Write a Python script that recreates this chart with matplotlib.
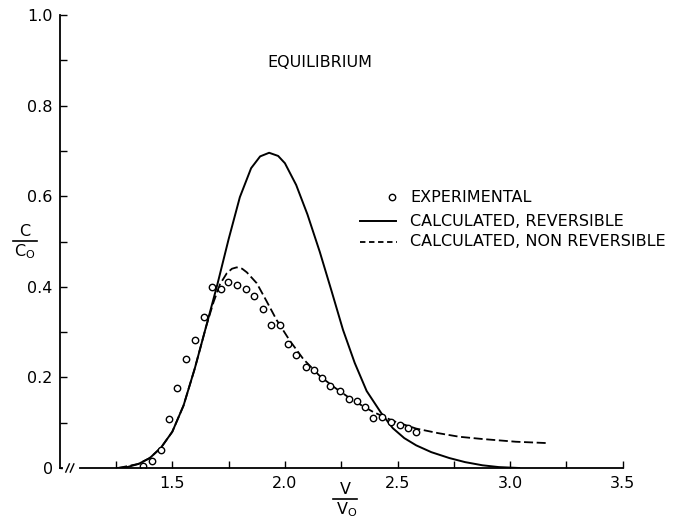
import matplotlib
matplotlib.use("Agg")
import matplotlib.pyplot as plt
from matplotlib.lines import Line2D
from matplotlib.ticker import FixedLocator, FixedFormatter

plt.rcParams['font.family'] = ['DejaVu Sans']
plt.rcParams['font.size'] = 11.5

# experimental points, C/C0 against V/V0
exp_v = [1.370, 1.410, 1.451, 1.485, 1.522, 1.562, 1.600, 1.639, 1.678, 1.715,
         1.748, 1.788, 1.826, 1.863, 1.904, 1.938, 1.979, 2.015, 2.051, 2.092,
         2.128, 2.164, 2.202, 2.243, 2.283, 2.322, 2.357, 2.392, 2.432, 2.473,
         2.509, 2.547, 2.584]
exp_c = [0.005, 0.015, 0.040, 0.109, 0.177, 0.240, 0.283, 0.333, 0.399, 0.396,
         0.411, 0.403, 0.396, 0.379, 0.350, 0.315, 0.315, 0.274, 0.250, 0.223,
         0.216, 0.199, 0.180, 0.170, 0.153, 0.147, 0.134, 0.110, 0.112, 0.101,
         0.096, 0.088, 0.080]

# calculated, reversible
rev_v = [1.257, 1.30, 1.35, 1.40, 1.45, 1.50, 1.55, 1.60, 1.65, 1.70,
         1.75, 1.80, 1.85, 1.89, 1.93, 1.97, 2.00, 2.05, 2.10, 2.155,
         2.207, 2.258, 2.31, 2.363, 2.428, 2.479, 2.53, 2.583, 2.65, 2.73,
         2.80, 2.877, 2.95, 3.04]
rev_c = [0.0, 0.002, 0.009, 0.022, 0.045, 0.080, 0.138, 0.220, 0.312, 0.405,
         0.505, 0.598, 0.662, 0.688, 0.696, 0.689, 0.673, 0.625, 0.560, 0.477,
         0.391, 0.305, 0.232, 0.170, 0.121, 0.088, 0.066, 0.050, 0.035, 0.022,
         0.013, 0.006, 0.002, 0.0]

# calculated, non reversible
nrev_v = [1.26, 1.35, 1.40, 1.45, 1.50, 1.55, 1.60, 1.65, 1.683, 1.712,
          1.742, 1.765, 1.786, 1.81, 1.831, 1.875, 1.919, 1.963, 2.022, 2.081,
          2.155, 2.22, 2.30, 2.391, 2.48, 2.583, 2.68, 2.774, 2.877, 3.025, 3.165]
nrev_c = [0.0, 0.009, 0.022, 0.045, 0.080, 0.138, 0.220, 0.312, 0.366, 0.406,
          0.430, 0.440, 0.443, 0.440, 0.432, 0.408, 0.368, 0.327, 0.281, 0.241,
          0.203, 0.178, 0.150, 0.124, 0.104, 0.087, 0.077, 0.069, 0.064, 0.058,
          0.055]

x_major = [1.5, 2.0, 2.5, 3.0, 3.5]
x_labels = ["1.5", "2.0", "2.5", "3.0", "3.5"]
x_minor = [1.25, 1.75, 2.25, 2.75, 3.25]
y_major = [0, 0.2, 0.4, 0.6, 0.8, 1.0]
y_labels = ["0", "0.2", "0.4", "0.6", "0.8", "1.0"]
y_minor = [0.1, 0.3, 0.5, 0.7, 0.9]

fig = plt.figure(figsize=(6.9, 5.2), dpi=100)
ax = fig.add_axes([0.0865, 0.1, 0.816, 0.871])

ax.plot(rev_v, rev_c, color="black", lw=1.4)
ax.plot(nrev_v, nrev_c, color="black", lw=1.3, dashes=(5, 2))
ax.plot(exp_v, exp_c, "o", mfc="white", mec="black", ms=4.6, mew=1.0, ls="none")

ax.set_xlim(1.0, 3.5)
ax.set_ylim(0, 1.0)
for s in ("top", "right"):
    ax.spines[s].set_visible(False)
for s in ("left", "bottom"):
    ax.spines[s].set_linewidth(1.3)

ax.xaxis.set_major_locator(FixedLocator(x_major))
ax.xaxis.set_major_formatter(FixedFormatter(x_labels))
ax.xaxis.set_minor_locator(FixedLocator(x_minor))
ax.yaxis.set_major_locator(FixedLocator(y_major))
ax.yaxis.set_major_formatter(FixedFormatter(y_labels))
ax.yaxis.set_minor_locator(FixedLocator(y_minor))
ax.tick_params(which="both", direction="in", length=5, width=1.0)
ax.tick_params(axis="x", pad=6)
ax.tick_params(axis="y", pad=5)

# axis break on the V/V0 axis
ax.plot([1.025, 1.075], [0, 0], color="white", lw=3, clip_on=False, zorder=5)
for xb in (1.035, 1.055):
    ax.plot([xb - 0.008, xb + 0.008], [-0.009, 0.009], color="black", lw=1.0,
            clip_on=False, zorder=6)

ax.text(2.156, 0.896, "EQUILIBRIUM", ha="center", va="center")

# key
ax.plot([2.475], [0.598], "o", mfc="white", mec="black", ms=4.6, mew=1.0)
ax.plot([2.333, 2.493], [0.545, 0.545], color="black", lw=1.4)
ax.plot([2.333, 2.497], [0.499, 0.499], color="black", lw=1.3, dashes=(3, 2))
ax.text(2.555, 0.598, "EXPERIMENTAL", va="center")
ax.text(2.555, 0.545, "CALCULATED, REVERSIBLE", va="center")
ax.text(2.555, 0.499, "CALCULATED, NON REVERSIBLE", va="center")

# axis labels as stacked fractions
fig.text(25 / 690, 1 - 232 / 520, "C", ha="center", va="center")
fig.add_artist(Line2D([13 / 690, 37 / 690], [1 - 241 / 520] * 2,
                      color="black", lw=1.2))
fig.text(25 / 690, 1 - 252 / 520, r"C$_\mathregular{O}$", ha="center", va="center")

fig.text(345 / 690, 1 - 489 / 520, "V", ha="center", va="center")
fig.add_artist(Line2D([333 / 690, 357 / 690], [1 - 499 / 520] * 2,
                      color="black", lw=1.2))
fig.text(347 / 690, 1 - 510 / 520, r"V$_\mathregular{O}$", ha="center", va="center")

fig.savefig("out.png", dpi=100)
